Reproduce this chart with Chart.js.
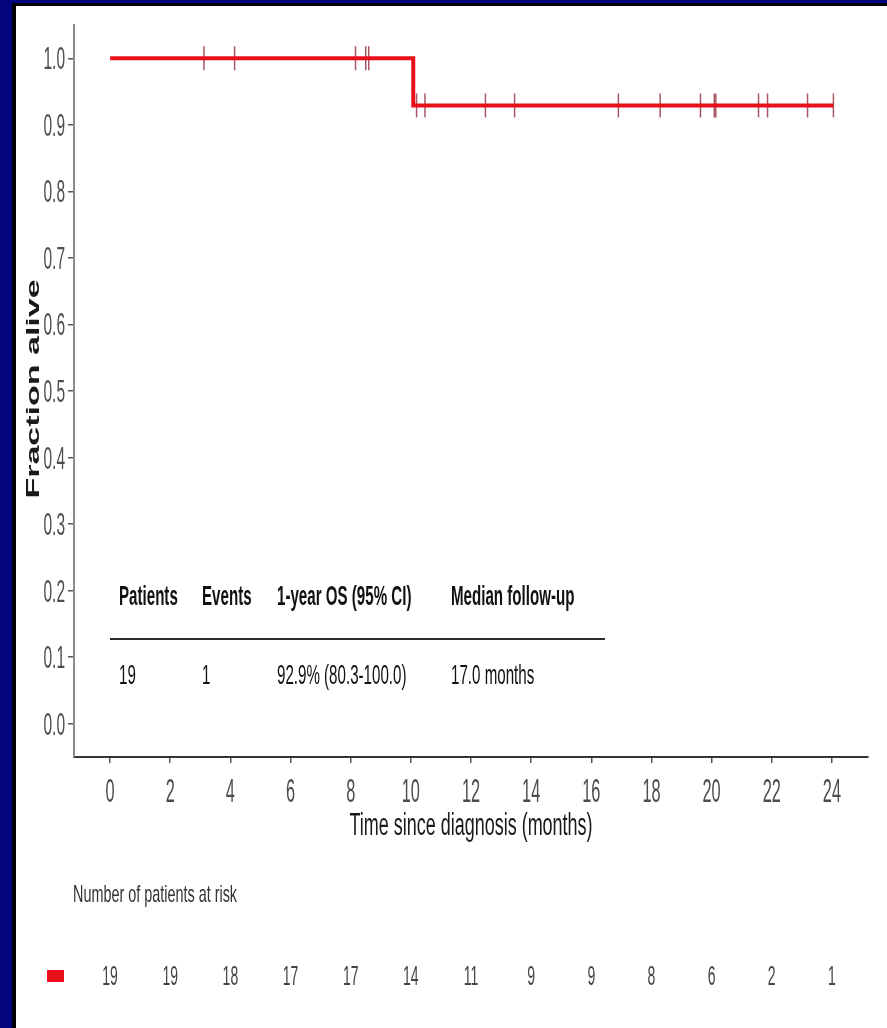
<!DOCTYPE html>
<html>
<head>
<meta charset="utf-8">
<script src="https://cdn.jsdelivr.net/npm/chart.js@4.4.1/dist/chart.umd.min.js"></script>
<style>
  html, body { margin: 0; padding: 0; background: #04047e; }
  #frame { position: absolute; left: 12px; top: 3px; right: 0; bottom: 0; background: #000; }
  #wrap { position: absolute; left: 16px; top: 6px; width: 871px; height: 1022px; background: #fff; }
</style>
</head>
<body>
<div id="frame"></div>
<div id="wrap"><canvas id="myChart"></canvas></div>
<script>
// Kaplan-Meier curve (event times / survival)
var kmTimes = [0, 10.08, 24.05];
var kmSurv = [1, 0.929, 0.929];

// censored patients
var censorTimes = [3.12, 4.14, 8.16, 8.5, 8.6, 10.19, 10.47, 12.48, 13.45, 16.9, 18.29, 19.63, 20.09, 20.14, 21.56, 21.86, 23.19, 24.05];
var censorSurv = [1, 1, 1, 1, 1, 0.929, 0.929, 0.929, 0.929, 0.929, 0.929, 0.929, 0.929, 0.929, 0.929, 0.929, 0.929, 0.929];

// axes
var monthTicks = [0, 2, 4, 6, 8, 10, 12, 14, 16, 18, 20, 22, 24];
var fracTicks = [0, 0.1, 0.2, 0.3, 0.4, 0.5, 0.6, 0.7, 0.8, 0.9, 1.0];
var fracLabels = ['0.0', '0.1', '0.2', '0.3', '0.4', '0.5', '0.6', '0.7', '0.8', '0.9', '1.0'];

// number at risk under each month tick
var atRisk = [19, 19, 18, 17, 17, 14, 11, 9, 9, 8, 6, 2, 1];

// summary table
var tableHead = ['Patients', 'Events', '1-year OS (95% CI)', 'Median follow-up'];
var tableRow = ['19', '1', '92.9% (80.3-100.0)', '17.0 months'];

var RED = '#e8101a';

function toXY(xs, ys) {
  var out = [];
  for (var i = 0; i < xs.length; i++) out.push({x: xs[i], y: ys[i]});
  return out;
}

// draw text squeezed horizontally (the source figure is condensed)
function squeezed(ctx, text, x, y, font, sx, align, color) {
  ctx.save();
  ctx.font = font;
  ctx.fillStyle = color;
  ctx.textAlign = align;
  ctx.textBaseline = 'alphabetic';
  ctx.translate(x, y);
  ctx.scale(sx, 1);
  ctx.fillText(text, 0, 0);
  ctx.restore();
}

var textPlugin = {
  id: 'kmText',
  afterDraw: function(chart) {
    var ctx = chart.ctx;
    var xs = chart.scales.x, ys = chart.scales.y;
    var ca = chart.chartArea;

    // y tick labels
    ys.ticks.forEach(function(t, i) {
      var py = ys.getPixelForValue(t.value);
      squeezed(ctx, fracLabels[i], ca.left - 9, py + 11, '31px "Liberation Sans", Arial, sans-serif', 0.5, 'right', '#4d4d4d');
    });
    // x tick labels
    xs.ticks.forEach(function(t) {
      var px = xs.getPixelForValue(t.value);
      squeezed(ctx, String(t.value), px, ca.bottom + 45, '34px "Liberation Sans", Arial, sans-serif', 0.48, 'center', '#4d4d4d');
    });
    // x title
    squeezed(ctx, 'Time since diagnosis (months)', (ca.left + ca.right) / 2, ca.bottom + 78,
      '31px "Liberation Sans", Arial, sans-serif', 0.58, 'center', '#1a1a1a');

    // y title (rotated, glyph height squeezed)
    ctx.save();
    ctx.translate(23, 383);
    ctx.rotate(-Math.PI / 2);
    ctx.scale(1, 0.55);
    ctx.font = 'bold 34px "Liberation Sans", Arial, sans-serif';
    ctx.fillStyle = '#1a1a1a';
    ctx.textAlign = 'center';
    ctx.textBaseline = 'alphabetic';
    ctx.fillText('Fraction alive', 0, 0);
    ctx.restore();

    // summary table inside plot
    var colX = [103, 186, 261, 435];
    tableHead.forEach(function(h, i) {
      squeezed(ctx, h, colX[i], 599, 'bold 28px "Liberation Sans", Arial, sans-serif', 0.54, 'left', '#111');
    });
    tableRow.forEach(function(v, i) {
      squeezed(ctx, v, colX[i], 678, '28px "Liberation Sans", Arial, sans-serif', 0.54, 'left', '#111');
    });
    ctx.save();
    ctx.strokeStyle = '#2a2a2a';
    ctx.lineWidth = 2;
    ctx.beginPath();
    ctx.moveTo(94, 633);
    ctx.lineTo(589, 633);
    ctx.stroke();
    ctx.restore();

    // number at risk
    squeezed(ctx, 'Number of patients at risk', 57, 896, '24px "Liberation Sans", Arial, sans-serif', 0.6, 'left', '#333');
    ctx.fillStyle = RED;
    ctx.fillRect(31, 964, 17, 12);
    atRisk.forEach(function(n, i) {
      var px = xs.getPixelForValue(monthTicks[i]);
      squeezed(ctx, String(n), px, 979, '28px "Liberation Sans", Arial, sans-serif', 0.5, 'center', '#444');
    });
  }
};

window.onload = function() {
  var ctx = document.getElementById('myChart').getContext('2d');
  new Chart(ctx, {
    type: 'scatter',
    data: {
      datasets: [
        {
          type: 'line',
          data: toXY(kmTimes, kmSurv),
          borderColor: RED,
          borderWidth: 4,
          borderCapStyle: 'butt',
          stepped: 'before',
          pointRadius: 0,
          fill: false
        },
        {
          type: 'scatter',
          data: toXY(censorTimes, censorSurv),
          pointStyle: 'line',
          rotation: 90,
          radius: 12,
          borderWidth: 1.5,
          borderColor: 'rgba(150,60,70,0.85)',
          backgroundColor: 'rgba(150,60,70,0.85)'
        }
      ]
    },
    options: {
      responsive: true,
      maintainAspectRatio: false,
      devicePixelRatio: 1,
      animation: false,
      layout: { padding: { top: 19, right: 19, left: 0, bottom: 0 } },
      plugins: { legend: { display: false }, tooltip: { enabled: false } },
      scales: {
        x: {
          type: 'linear',
          min: -1.2,
          max: 25.2,
          afterBuildTicks: function(s) { s.ticks = monthTicks.map(function(v) { return {value: v}; }); },
          afterFit: function(s) { s.height = 271; },
          ticks: { display: false },
          grid: { drawOnChartArea: false, drawTicks: true, tickLength: 6, color: '#555', lineWidth: 1.5 },
          border: { display: true, color: '#333', width: 2 }
        },
        y: {
          type: 'linear',
          min: -0.05,
          max: 1.05,
          afterBuildTicks: function(s) { s.ticks = fracTicks.map(function(v) { return {value: v}; }); },
          afterFit: function(s) { s.width = 58; },
          ticks: { display: false },
          grid: { drawOnChartArea: false, drawTicks: true, tickLength: 6, color: '#555', lineWidth: 1.5 },
          border: { display: true, color: '#8a8a8a', width: 2 }
        }
      }
    },
    plugins: [textPlugin]
  });
};
</script>
</body>
</html>
